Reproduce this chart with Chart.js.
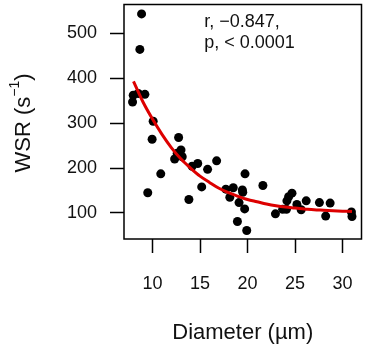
<!DOCTYPE html>
<html>
<head>
<meta charset="utf-8">
<script src="https://cdn.jsdelivr.net/npm/chart.js@4.4.1/dist/chart.umd.min.js"></script>
<style>
  html, body { margin: 0; padding: 0; background: #fff; }
  canvas { display: block; }
</style>
</head>
<body>
<canvas id="chart" width="366" height="360"></canvas>
<script>
const diameter = [7.9, 7.97, 8.5, 9.2, 8.67, 8.85, 10.07, 9.96, 9.5, 10.87,
  12.75, 13.0, 12.33, 13.13, 12.6, 13.83, 14.17, 14.76, 15.18, 15.8,
  16.75, 17.72, 18.14, 18.5, 19.46, 19.5, 19.74, 19.11, 19.7, 18.94,
  19.92, 21.62, 22.94, 23.7, 24.1, 24.15, 24.33, 24.68, 25.2, 25.65,
  26.18, 27.57, 28.23, 28.7, 30.94, 31.0]
const wsr = [347, 362, 366, 364, 464, 543, 304, 264, 145, 187,
  268, 240, 220, 225, 233, 130, 204, 210, 158, 197,
  216, 153, 135, 156, 151, 146, 187, 123, 109, 81,
  61, 161, 98, 108, 108, 127, 136, 144, 119, 107,
  127, 123, 93, 122, 102, 92]

// fitted curve
const fitDiameter = [8, 9, 10, 11, 12, 13, 14, 15, 16, 17, 18, 19, 20,
  21, 22, 23, 24, 25, 26, 27, 28, 29, 30, 31]
const fitWsr = [393, 347, 309, 275, 245, 220, 200, 182, 168, 155, 145, 137, 130,
  125, 120, 116, 113, 111, 109, 107, 106, 105, 104, 103]

const xTicks = [10, 15, 20, 25, 30]
const yTicks = [100, 200, 300, 400, 500]
const statText = ["r, \u22120.847,", "p, < 0.0001"]
const xTitle = "Diameter (\u00b5m)"

const FONT = "'Liberation Sans', Arial, sans-serif"

// no extra room for edge labels, keep the plot box where it is
function noPad(s) {
  s.paddingTop = 0
  s.paddingBottom = 0
  s.paddingLeft = 0
  s.paddingRight = 0
}

const boxAndText = {
  id: "boxAndText",
  afterDraw(chart) {
    const { ctx, chartArea: a, scales } = chart
    ctx.save()
    ctx.strokeStyle = "#000"
    ctx.lineWidth = 1.5
    ctx.strokeRect(a.left, a.top, a.right - a.left, a.bottom - a.top)

    // r / p annotation
    ctx.fillStyle = "#111"
    ctx.font = "18px " + FONT
    ctx.textBaseline = "middle"
    ctx.textAlign = "left"
    const tx = scales.x.getPixelForValue(15.45)
    const ty = scales.y.getPixelForValue(524)
    statText.forEach((t, i) => ctx.fillText(t, tx, ty + i * 21))

    // y title with superscript
    ctx.translate(22, 123)
    ctx.rotate(-Math.PI / 2)
    const p1 = "WSR (s", sup = "\u22121", p2 = ")"
    ctx.font = "14px " + FONT
    const wSup = ctx.measureText(sup).width
    ctx.font = "22px " + FONT
    const w1 = ctx.measureText(p1).width, w2 = ctx.measureText(p2).width
    let x = -(w1 + wSup + w2) / 2
    ctx.textBaseline = "alphabetic"
    ctx.fillText(p1, x, 8)
    x += w1
    ctx.font = "14px " + FONT
    ctx.fillText(sup, x, -3)
    x += wSup
    ctx.font = "22px " + FONT
    ctx.fillText(p2, x, 8)
    ctx.restore()
  }
}

new Chart(document.getElementById("chart"), {
  type: "scatter",
  data: {
    datasets: [{
        type: "line",
        data: fitDiameter.map((d, i) => ({ x: d, y: fitWsr[i] })),
        borderColor: "#dd0000",
        borderWidth: 3,
        pointRadius: 0,
        cubicInterpolationMode: "monotone",
        order: 0
      },
      {
        data: diameter.map((d, i) => ({ x: d, y: wsr[i] })),
        backgroundColor: "#000",
        borderColor: "#000",
        pointRadius: 4.5,
        pointBorderWidth: 0,
        order: 1
      }
    ]
  },
  options: {
    responsive: false,
    animation: false,
    devicePixelRatio: 1,
    layout: { padding: { top: 4, right: 3, left: 0, bottom: 0 } },
    plugins: { legend: { display: false }, tooltip: { enabled: false } },
    scales: {
      x: {
        type: "linear",
        min: 7,
        max: 32,
        afterBuildTicks: s => { s.ticks = xTicks.map(v => ({ value: v })) },
        afterFit: s => { s.height = 121; noPad(s) },
        grid: { drawOnChartArea: false, tickLength: 14, tickColor: "#000", tickWidth: 1.5 },
        border: { display: false },
        ticks: { color: "#111", padding: 20, font: { family: FONT, size: 18 } },
        title: {
          display: true,
          text: xTitle,
          color: "#111",
          font: { family: FONT, size: 22 },
          padding: { top: 0, bottom: 14 }
        }
      },
      y: {
        min: 42,
        max: 564,
        afterBuildTicks: s => { s.ticks = yTicks.map(v => ({ value: v })) },
        afterFit: s => { s.width = 124; noPad(s) },
        grid: { drawOnChartArea: false, tickLength: 14, tickColor: "#000", tickWidth: 1.5 },
        border: { display: false },
        ticks: { color: "#111", padding: 13, font: { family: FONT, size: 18 } }
      }
    }
  },
  plugins: [boxAndText]
})
</script>
</body>
</html>
